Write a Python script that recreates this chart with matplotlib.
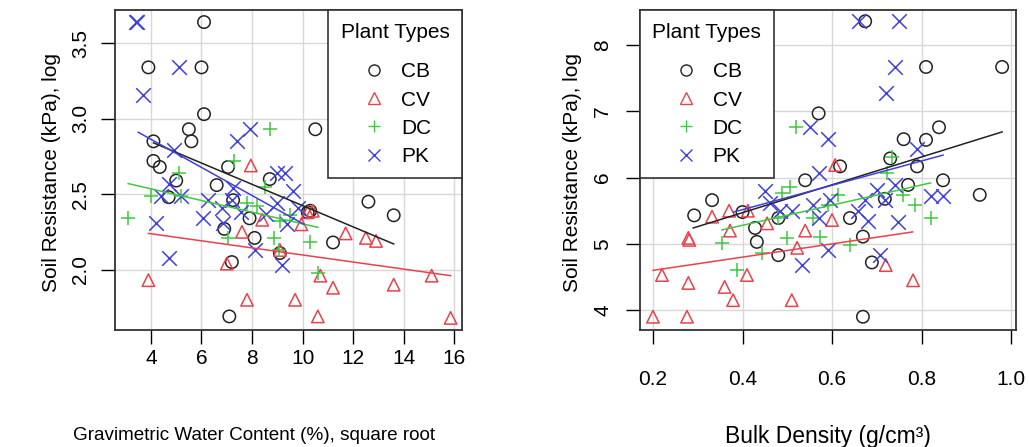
import numpy as np
import matplotlib
matplotlib.use('Agg')
from matplotlib import pyplot as plt
from matplotlib.lines import Line2D

plt.rcParams['font.family'] = ['Liberation Sans', 'DejaVu Sans']

groups = ['CB', 'CV', 'DC', 'PK']
colors = {'CB': '#222222', 'CV': '#e8424c', 'DC': '#40c840', 'PK': '#4040dc'}
markers = {'CB': 'o', 'CV': '^', 'DC': '+', 'PK': 'x'}

# left panel: sqrt gravimetric water content vs log soil resistance
water_cb = [6.1, 3.9, 6.0, 6.1, 4.1, 5.5, 5.6, 10.5, 4.1, 4.35, 5.0, 4.7, 6.6, 7.05, 8.7,
            7.25, 7.9, 6.9, 8.1, 9.1, 7.2, 7.1, 10.2, 11.2, 12.6, 13.6, 10.3]
resist_w_cb = [3.64, 3.34, 3.34, 3.03, 2.85, 2.93, 2.85, 2.93, 2.72, 2.68, 2.59, 2.48, 2.56, 2.68, 2.60,
               2.46, 2.34, 2.27, 2.21, 2.11, 2.05, 1.69, 2.38, 2.18, 2.45, 2.36, 2.39]
water_cv = [3.9, 7.0, 7.6, 7.8, 7.95, 8.4, 9.1, 9.7, 9.95, 10.2, 10.4, 10.7, 10.6, 11.2,
            11.7, 12.5, 12.9, 13.6, 15.1, 15.85]
resist_w_cv = [1.93, 2.04, 2.25, 1.80, 2.69, 2.33, 2.13, 1.80, 2.30, 2.38, 2.39, 1.96, 1.69, 1.88,
               2.24, 2.21, 2.19, 1.90, 1.96, 1.68]
water_dc = [3.1, 4.0, 5.1, 5.2, 7.3, 7.05, 8.7, 8.2, 8.5, 8.85, 9.05, 9.1, 10.3, 10.6, 7.8, 9.5]
resist_w_dc = [2.34, 2.49, 2.64, 2.49, 2.72, 2.21, 2.93, 2.42, 2.55, 2.21, 2.13, 2.32, 2.18, 1.98, 2.44, 2.36]
water_pk = [3.4, 3.45, 5.1, 3.7, 4.9, 7.4, 7.9, 4.7, 4.4, 5.2, 6.25, 6.8, 7.2, 7.25, 4.2, 6.05,
            6.85, 4.7, 7.55, 8.1, 9.0, 9.3, 9.6, 9.0, 9.8, 8.55, 9.2, 9.4]
resist_w_pk = [3.64, 3.64, 3.34, 3.16, 2.79, 2.85, 2.93, 2.57, 2.49, 2.49, 2.46, 2.41, 2.46, 2.54, 2.31, 2.34,
               2.31, 2.08, 2.38, 2.13, 2.64, 2.64, 2.52, 2.44, 2.41, 2.37, 2.03, 2.30]

# right panel: bulk density vs log soil resistance
bd_cb = [0.674, 0.81, 0.98, 0.57, 0.839, 0.76, 0.81, 0.73, 0.79, 0.618, 0.54, 0.77, 0.848, 0.93,
         0.718, 0.64, 0.669, 0.689, 0.669, 0.292, 0.332, 0.40, 0.428, 0.432, 0.48, 0.48]
resist_b_cb = [8.36, 7.67, 7.67, 6.97, 6.76, 6.58, 6.57, 6.29, 6.17, 6.17, 5.96, 5.89, 5.96, 5.74,
               5.68, 5.39, 5.11, 4.72, 3.90, 5.43, 5.66, 5.48, 5.24, 5.03, 5.39, 4.83]
bd_cv = [0.2, 0.276, 0.22, 0.279, 0.279, 0.281, 0.332, 0.37, 0.36, 0.379, 0.372, 0.41, 0.412,
         0.455, 0.51, 0.522, 0.54, 0.60, 0.607, 0.72, 0.781]
resist_b_cv = [3.90, 3.90, 4.53, 4.41, 5.09, 5.06, 5.41, 5.50, 4.35, 4.15, 5.20, 4.53, 5.50,
               5.31, 4.15, 4.94, 5.20, 5.36, 6.19, 4.68, 4.45]
bd_dc = [0.52, 0.506, 0.488, 0.48, 0.50, 0.354, 0.388, 0.444, 0.573, 0.591, 0.614, 0.64, 0.734,
         0.722, 0.758, 0.786, 0.82, 0.557]
resist_b_dc = [6.77, 5.86, 5.77, 5.39, 5.09, 5.01, 4.60, 4.86, 5.10, 5.58, 5.74, 4.98, 6.31,
               6.07, 5.74, 5.58, 5.39, 5.39]
bd_pk = [0.66, 0.75, 0.74, 0.72, 0.551, 0.59, 0.79, 0.57, 0.70, 0.74, 0.82, 0.848, 0.558, 0.57,
         0.674, 0.718, 0.658, 0.68, 0.748, 0.592, 0.707, 0.533, 0.45, 0.461, 0.484, 0.51, 0.595]
resist_b_pk = [8.36, 8.36, 7.67, 7.27, 6.77, 6.58, 6.43, 6.07, 5.81, 5.89, 5.73, 5.73, 5.58, 5.39,
               5.66, 5.66, 5.50, 5.35, 5.33, 4.90, 4.83, 4.68, 5.80, 5.62, 5.50, 5.50, 5.66]

# fitted trend lines (end points)
fit_water = {'CB': ([4.1, 13.6], [2.84, 2.17]), 'CV': ([3.9, 15.85], [2.24, 1.96]),
             'DC': ([3.1, 10.6], [2.57, 2.28]), 'PK': ([3.5, 10.05], [2.91, 2.30])}
fit_bd = {'CB': ([0.29, 0.98], [5.24, 6.69]), 'CV': ([0.2, 0.78], [4.60, 5.18]),
          'DC': ([0.354, 0.82], [5.21, 5.92]), 'PK': ([0.38, 0.848], [5.48, 6.34])}

left_data = {'CB': (water_cb, resist_w_cb), 'CV': (water_cv, resist_w_cv),
             'DC': (water_dc, resist_w_dc), 'PK': (water_pk, resist_w_pk)}
right_data = {'CB': (bd_cb, resist_b_cb), 'CV': (bd_cv, resist_b_cv),
              'DC': (bd_dc, resist_b_dc), 'PK': (bd_pk, resist_b_pk)}

left_xticks = [4, 6, 8, 10, 12, 14, 16]
left_yticks = [2.0, 2.5, 3.0, 3.5]
right_xticks = [0.2, 0.4, 0.6, 0.8, 1.0]
right_yticks = [4, 5, 6, 7, 8]

fs = 15

fig = plt.figure(figsize=(10.29, 4.47), dpi=100)
W, H = 1029, 447
ax1 = fig.add_axes([115 / W, 1 - 330 / H, 347 / W, 320 / H])
ax2 = fig.add_axes([640 / W, 1 - 330 / H, 376 / W, 320 / H])


def draw(ax, data, fits, xticks, yticks, xlim, ylim, xfmt, yfmt, xpad, ypad, loc):
    for t in xticks:
        ax.axvline(t, color='#d8d8d8', lw=1, zorder=0)
    for t in yticks:
        ax.axhline(t, color='#d8d8d8', lw=1, zorder=0)
    for g in groups:
        x, y = data[g]
        if markers[g] in ('o', '^'):
            ax.scatter(x, y, marker=markers[g], s=80, facecolors='none',
                       edgecolors=colors[g], linewidths=1.1, zorder=3)
        else:
            ax.scatter(x, y, marker=markers[g], s=110, c=colors[g], linewidths=1.1, zorder=3)
        fx, fy = fits[g]
        ax.plot(fx, fy, color=colors[g], lw=1.1, zorder=4)
    ax.set_xlim(*xlim)
    ax.set_ylim(*ylim)
    ax.set_xticks(xticks)
    ax.set_yticks(yticks)
    ax.set_xticklabels([xfmt % t for t in xticks], fontsize=fs)
    ax.set_yticklabels([yfmt % t for t in yticks], fontsize=fs, rotation=90, va='center')
    ax.tick_params(axis='x', length=10, width=1, pad=xpad)
    ax.tick_params(axis='y', length=10, width=1, pad=ypad)
    for s in ax.spines.values():
        s.set_linewidth(1.3)
        s.set_color('#333333')
    handles = [Line2D([], [], ls='none', marker=markers[g], color=colors[g],
                      markerfacecolor='none', markersize=8, markeredgewidth=1.0) for g in groups]
    leg = ax.legend(handles, groups, title='Plant Types', loc=loc,
                    fontsize=fs, title_fontsize=fs, frameon=True, fancybox=False,
                    edgecolor='#333333', framealpha=1, borderaxespad=0, labelspacing=0.44,
                    handlelength=1.4, handletextpad=0.6, borderpad=0.6)
    leg._legend_box.sep = 15
    leg.get_frame().set_linewidth(1.2)
    leg.set_zorder(10)


draw(ax1, left_data, fit_water, left_xticks, left_yticks, (2.58, 16.3), (1.60, 3.72),
     '%d', '%.1f', 4, 8, 'upper right')
draw(ax2, right_data, fit_bd, right_xticks, right_yticks, (0.171, 1.011), (3.70, 8.53),
     '%.1f', '%d', 19, 10, 'upper left')

fig.text(52 / W, 1 - 172 / H, 'Soil Resistance (kPa), log', rotation=90, ha='center', va='center', fontsize=fs)
fig.text(572 / W, 1 - 172 / H, 'Soil Resistance (kPa), log', rotation=90, ha='center', va='center', fontsize=fs)
fig.text(254 / W, 1 - 436 / H, 'Gravimetric Water Content (%), square root', ha='center', va='center', fontsize=13.6)
fig.text(828 / W, 1 - 436 / H, 'Bulk Density (g/cm³)', ha='center', va='center', fontsize=16.5)

fig.savefig('out.png', dpi=100)
